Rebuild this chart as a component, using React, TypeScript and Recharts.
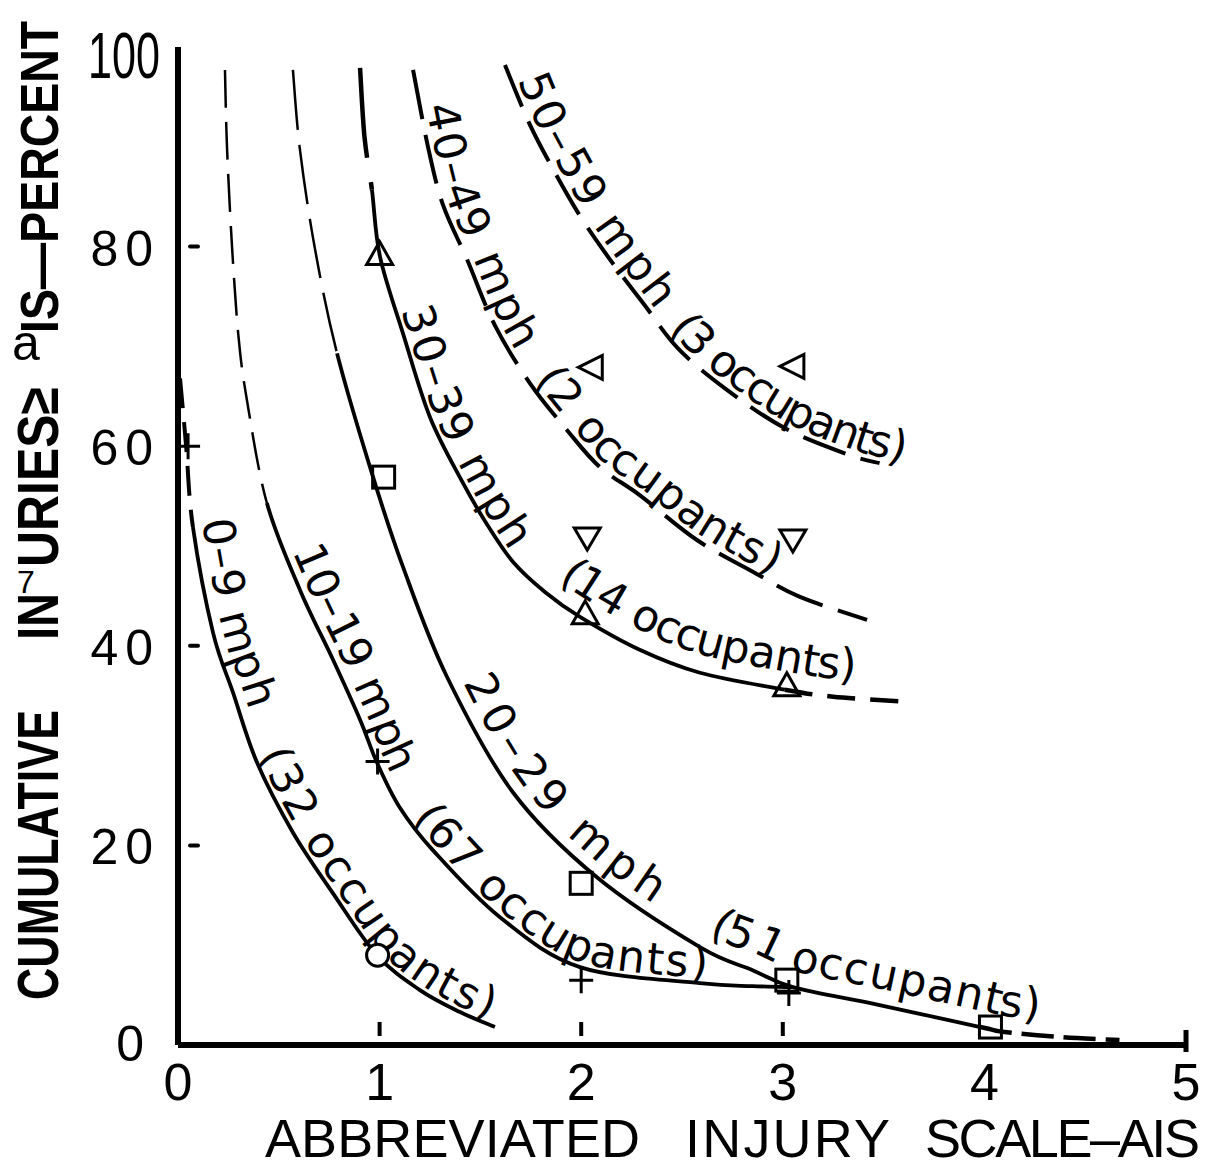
import React from 'react';
import { ComposedChart, Line, Scatter, XAxis, YAxis } from 'recharts';

type Pt = { x: number; y: number };

const xTicks = [0, 1, 2, 3, 4, 5];
const yTicks = [0, 20, 40, 60, 80, 100];

// 0-9 mph (32 occupants)
const mph0Dash: Pt[] = [{ x: 0.01, y: 66.8 }, { x: 0.04, y: 60.1 }, { x: 0.074, y: 51.9 }];
const mph0Solid: Pt[] = [
  { x: 0.074, y: 51.9 }, { x: 0.174, y: 41.3 }, { x: 0.273, y: 35.3 }, { x: 0.392, y: 28.3 },
  { x: 0.57, y: 21.3 }, { x: 0.769, y: 15.2 }, { x: 0.987, y: 9.0 }, { x: 1.2, y: 5.5 },
  { x: 1.399, y: 3.3 }, { x: 1.572, y: 1.8 },
];

// 10-19 mph (67 occupants)
const mph10Dash: Pt[] = [
  { x: 0.233, y: 97.7 }, { x: 0.243, y: 90 }, { x: 0.268, y: 80 }, { x: 0.3, y: 71 },
  { x: 0.342, y: 64.6 }, { x: 0.441, y: 54.3 },
];
const mph10Solid: Pt[] = [
  { x: 0.441, y: 54.3 }, { x: 0.605, y: 45.6 }, { x: 0.769, y: 38.6 }, { x: 0.903, y: 32.6 },
  { x: 0.987, y: 28.3 }, { x: 1.1, y: 23.8 }, { x: 1.265, y: 19.5 }, { x: 1.597, y: 12.8 },
  { x: 1.994, y: 7.8 }, { x: 2.589, y: 6.2 }, { x: 2.85, y: 5.9 }, { x: 3.05, y: 5.8 },
];

// 20-29 mph (51 occupants)
const mph20Dash: Pt[] = [{ x: 0.57, y: 97.7 }, { x: 0.605, y: 89.7 }, { x: 0.68, y: 79.7 }, { x: 0.789, y: 69.3 }];
const mph20Solid: Pt[] = [
  { x: 0.789, y: 69.3 }, { x: 0.96, y: 57.4 }, { x: 1.116, y: 47.9 },
  { x: 1.334, y: 36.9 }, { x: 1.662, y: 25.3 }, { x: 2.078, y: 16.8 },
  { x: 2.589, y: 9.8 }, { x: 2.85, y: 7.5 }, { x: 3.05, y: 5.8 }, { x: 3.48, y: 4.0 }, { x: 3.98, y: 1.8 },
];
const mph20Tail: Pt[] = [{ x: 3.98, y: 1.8 }, { x: 4.1, y: 1.3 }, { x: 4.375, y: 0.8 }, { x: 4.67, y: 0.5 }];

// 30-39 mph (14 occupants)
const mph30Dash: Pt[] = [{ x: 0.903, y: 97.9 }, { x: 0.925, y: 91 }, { x: 0.962, y: 85.7 }];
const mph30Solid: Pt[] = [
  { x: 0.962, y: 85.7 }, { x: 1.002, y: 79 }, { x: 1.116, y: 71.3 }, { x: 1.25, y: 62.9 },
  { x: 1.414, y: 56.3 }, { x: 1.538, y: 52.0 }, { x: 1.662, y: 48.4 }, { x: 1.82, y: 45.4 },
  { x: 1.994, y: 42.9 }, { x: 2.29, y: 39.6 }, { x: 2.589, y: 37.3 }, { x: 3.01, y: 35.6 },
];
const mph30Tail: Pt[] = [{ x: 3.01, y: 35.6 }, { x: 3.25, y: 34.9 }, { x: 3.61, y: 34.4 }];

// 40-49 mph (2 occupants)
const mph40: Pt[] = [
  { x: 1.166, y: 97.7 }, { x: 1.24, y: 90 }, { x: 1.314, y: 84.2 }, { x: 1.434, y: 78.7 },
  { x: 1.572, y: 72.1 }, { x: 1.746, y: 66.3 }, { x: 1.93, y: 61.6 }, { x: 2.093, y: 57.9 },
  { x: 2.29, y: 55.1 }, { x: 2.574, y: 50.6 }, { x: 2.862, y: 47.3 }, { x: 3.085, y: 44.9 },
  { x: 3.418, y: 42.6 },
];

// 50-59 mph (3 occupants)
const mph50: Pt[] = [
  { x: 1.622, y: 98.2 }, { x: 1.672, y: 95.7 }, { x: 1.746, y: 92.2 }, { x: 1.835, y: 88.7 },
  { x: 1.984, y: 83.4 }, { x: 2.143, y: 78.7 }, { x: 2.316, y: 74.1 }, { x: 2.48, y: 69.8 },
  { x: 2.713, y: 65.8 }, { x: 3.011, y: 61.8 }, { x: 3.333, y: 59.1 }, { x: 3.48, y: 58.3 },
];

// observed points
const circlePts: Pt[] = [{ x: 0.99, y: 9 }];
const plusPts: Pt[] = [{ x: 0.05, y: 60 }, { x: 0.99, y: 28.4 }, { x: 2.0, y: 6.5 }, { x: 3.03, y: 5.2 }];
const squarePts: Pt[] = [{ x: 1.02, y: 56.9 }, { x: 2.0, y: 16.2 }, { x: 3.02, y: 6.5 }, { x: 4.03, y: 1.8 }];
const triUpPts: Pt[] = [{ x: 1.0, y: 79.2 }, { x: 2.02, y: 43.2 }, { x: 3.02, y: 36.0 }];
const triDownPts: Pt[] = [{ x: 2.03, y: 50.8 }, { x: 3.05, y: 50.6 }];
const triLeftPts: Pt[] = [{ x: 2.05, y: 67.9 }, { x: 3.05, y: 68.0 }];

const labels0 = ['0–9 mph', '(32 occupants)'];
const labels10 = ['10–19 mph', '(67 occupants)'];
const labels20 = ['20–29 mph', '(51 occupants)'];
const labels30 = ['30–39 mph', '(14 occupants)'];
const labels40 = ['40–49 mph', '(2 occupants)'];
const labels50 = ['50–59 mph', '(3 occupants)'];

const xTitle = ['ABBREVIATED', 'INJURY', 'SCALE–AIS'];
const yTitle = ['CUMULATIVE', 'IN', 'URIES≥', 'IS—PERCENT'];

const INK = '#000';
const LETTER = '"DejaVu Sans", sans-serif';
const NARROW = '"Liberation Sans Narrow", "Arial Narrow", "Liberation Sans", sans-serif';
const SANS = '"Liberation Sans", sans-serif';

// catmull-rom segments as cubic beziers
function bezierSegs(p: [number, number][]) {
  const out: number[][] = [];
  for (let i = 0; i < p.length - 1; i++) {
    const p0 = p[i - 1] || p[i];
    const p1 = p[i];
    const p2 = p[i + 1];
    const p3 = p[i + 2] || p2;
    out.push([
      p1[0] + (p2[0] - p0[0]) / 6,
      p1[1] + (p2[1] - p0[1]) / 6,
      p2[0] - (p3[0] - p1[0]) / 6,
      p2[1] - (p3[1] - p1[1]) / 6,
      p2[0],
      p2[1],
    ]);
  }
  return out;
}

// curve factory for Recharts' Line: smooth through all points, draw only segments [from, to)
const handDrawn = (from: number, to: number) => (context: any) => {
  let pts: [number, number][] = [];
  return {
    areaStart() {},
    areaEnd() {},
    lineStart() {
      pts = [];
    },
    lineEnd() {
      if (pts.length < 2) return;
      const segs = bezierSegs(pts);
      const end = Math.min(to, segs.length);
      context.moveTo(pts[from][0], pts[from][1]);
      for (let i = from; i < end; i++) {
        const s = segs[i];
        context.bezierCurveTo(s[0], s[1], s[2], s[3], s[4], s[5]);
      }
    },
    point(x: number, y: number) {
      pts.push([+x, +y]);
    },
  };
};

function smoothPath(p: { x: number; y: number }[]) {
  const arr = p.map((q) => [q.x, q.y] as [number, number]);
  let d = `M${arr[0][0]},${arr[0][1]}`;
  bezierSegs(arr).forEach((s) => {
    d += ` C${s[0]},${s[1]} ${s[2]},${s[3]} ${s[4]},${s[5]}`;
  });
  return d;
}

const collected: Record<string, { x: number; y: number }[]> = {};

type Seg = [number, number, number]; // start, end (fraction of curve), dy

function labelDot(id: string, count: number, texts: string[], segs: Seg[], ext = 0) {
  return (props: any) => {
    const { index, cx, cy } = props;
    if (index === 0) collected[id] = [];
    const store = collected[id] || (collected[id] = []);
    store[index] = { x: cx, y: cy };
    if (index !== count - 1) return <g key={`${id}-${index}`} />;
    const raw: { x: number; y: number }[] = (props.points && props.points.length === count ? props.points : store).filter(Boolean);
    let L = 0;
    for (let i = 1; i < raw.length; i++) L += Math.hypot(raw[i].x - raw[i - 1].x, raw[i].y - raw[i - 1].y);
    const pts = raw.slice();
    if (ext > 0) {
      const a = raw[raw.length - 2];
      const b = raw[raw.length - 1];
      const l = Math.hypot(b.x - a.x, b.y - a.y) || 1;
      pts.push({ x: b.x + ((b.x - a.x) / l) * ext, y: b.y + ((b.y - a.y) / l) * ext });
    }
    return (
      <g key={`${id}-${index}`}>
        <path id={id} d={smoothPath(pts)} fill="none" stroke="none" />
        {segs.map((s, i) => (
          <text
            key={i}
            fontFamily={LETTER}
            fontSize={44}
            fill={INK}
            dy={s[2]}
            textLength={(s[1] - s[0]) * L}
            lengthAdjust="spacing"
          >
            <textPath href={`#${id}`} startOffset={s[0] * L}>
              {texts[i]}
            </textPath>
          </text>
        ))}
      </g>
    );
  };
}

const CircleMark = (p: any) => <circle cx={p.cx} cy={p.cy} r={11} fill="#fff" stroke={INK} strokeWidth={3} />;
const PlusMark = (p: any) => (
  <path d={`M${p.cx - 12},${p.cy}H${p.cx + 12}M${p.cx},${p.cy - 13}V${p.cy + 13}`} stroke={INK} strokeWidth={3} fill="none" />
);
const SquareMark = (p: any) => (
  <rect x={p.cx - 11} y={p.cy - 11} width={22} height={22} fill="none" stroke={INK} strokeWidth={3} />
);
const TriUpMark = (p: any) => (
  <polygon points={`${p.cx},${p.cy - 13} ${p.cx + 13},${p.cy + 10} ${p.cx - 13},${p.cy + 10}`} fill="none" stroke={INK} strokeWidth={3} />
);
const TriDownMark = (p: any) => (
  <polygon points={`${p.cx - 13},${p.cy - 10} ${p.cx + 13},${p.cy - 10} ${p.cx},${p.cy + 12}`} fill="none" stroke={INK} strokeWidth={3} />
);
const TriLeftMark = (p: any) => (
  <polygon points={`${p.cx - 13},${p.cy} ${p.cx + 11},${p.cy - 12} ${p.cx + 11},${p.cy + 12}`} fill="none" stroke={INK} strokeWidth={3} />
);

const YTick = (props: any) => {
  const { x, y, payload } = props;
  const v = payload.value;
  const top = v === 100;
  return (
    <g>
      <text
        x={v === 0 ? x - 27 : x - 18}
        y={y + (top ? 31 : v === 0 ? 16 : 19)}
        textAnchor="end"
        fontFamily={top ? NARROW : SANS}
        fontSize={top ? 64 : 50}
        letterSpacing={top ? 0 : 7}
        fill={INK}
        {...(top ? { textLength: 72, lengthAdjust: 'spacingAndGlyphs' } : {})}
      >
        {v}
      </text>
      {(v === 20 || v === 40 || v === 80) && (
        <line x1={x + 12} x2={x + 20} y1={y} y2={y} stroke={INK} strokeWidth={4} strokeLinecap="round" />
      )}
    </g>
  );
};

const XTick = (props: any) => {
  const { x, y, payload } = props;
  const v = payload.value;
  return (
    <g>
      <text x={x} y={y + 55} textAnchor="middle" fontFamily={SANS} fontSize={52} fill={INK}>
        {v}
      </text>
      {v >= 1 && v <= 3 && <line x1={x} x2={x} y1={y - 23} y2={y - 9} stroke={INK} strokeWidth={4} />}
      {v === 5 && <line x1={x} x2={x} y1={y - 15} y2={y + 7} stroke={INK} strokeWidth={5} />}
    </g>
  );
};

const XTitle = (props: any) => {
  const vb = props.viewBox || { x: 178, y: 1045, width: 1008 };
  const base = vb.y + 112;
  const left = vb.x;
  const parts: [number, number][] = [
    [87, 375],
    [507, 205],
    [747, 275],
  ];
  return (
    <g>
      {xTitle.map((t, i) => (
        <text
          key={t}
          x={left + parts[i][0]}
          y={base}
          fontFamily={NARROW}
          fontSize={54}
          fill={INK}
          textLength={parts[i][1]}
          lengthAdjust="spacing"
        >
          {t}
        </text>
      ))}
    </g>
  );
};

const YTitle = (props: any) => {
  const vb = props.viewBox || { x: 78, y: 47, width: 100, height: 998 };
  const ax = vb.x + vb.width;
  const bottom = vb.y + vb.height;
  const bx = ax - 120;
  // [offset up from axis bottom, length, font size]
  const parts: [number, number, number][] = [
    [45, 290, 58],
    [405, 47, 58],
    [478, 180, 58],
    [712, 312, 54],
  ];
  return (
    <g>
      {yTitle.map((t, i) => {
        const sy = bottom - parts[i][0];
        return (
          <text
            key={t}
            x={bx}
            y={sy}
            transform={`rotate(-90 ${bx} ${sy})`}
            fontFamily={NARROW}
            fontWeight="bold"
            fontSize={parts[i][2]}
            fill={INK}
            textLength={parts[i][1]}
            lengthAdjust="spacingAndGlyphs"
          >
            {t}
          </text>
        );
      })}
      <text x={bx - 41} y={bottom - 452} fontFamily={SANS} fontSize={32} fill={INK}>
        7
      </text>
      <text x={bx - 46} y={bottom - 685} fontFamily={SANS} fontSize={50} fill={INK}>
        a
      </text>
    </g>
  );
};

const full0 = [...mph0Dash, ...mph0Solid.slice(1)];
const full10 = [...mph10Dash, ...mph10Solid.slice(1)];
const full20 = [...mph20Dash, ...mph20Solid.slice(1), ...mph20Tail.slice(1)];
const full30 = [...mph30Dash, ...mph30Solid.slice(1), ...mph30Tail.slice(1)];

export default function App() {
  const labelSeries = [
    { id: 'lp0', data: full0, texts: labels0, segs: [[0.19, 0.45, -10], [0.51, 0.99, -5]] as Seg[], ext: 30 },
    { id: 'lp1', data: full10, texts: labels10, segs: [[0.4, 0.6, -8], [0.64, 0.93, -5]] as Seg[], ext: 0 },
    { id: 'lp2', data: full20, texts: labels20, segs: [[0.446, 0.656, -12], [0.7, 0.944, -16]] as Seg[], ext: 0 },
    { id: 'lp3', data: full30, texts: labels30, segs: [[0.26, 0.54, -5], [0.6, 0.946, -18]] as Seg[], ext: 0 },
    { id: 'lp4', data: mph40, texts: labels40, segs: [[0.05, 0.4, -6], [0.445, 0.86, -6]] as Seg[], ext: 0 },
    { id: 'lp5', data: mph50, texts: labels50, segs: [[0.033, 0.51, -6], [0.55, 1.04, -6]] as Seg[], ext: 50 },
  ];

  // one curve = full point list, drawn piecewise (dashed / solid / dashed)
  const piece = (key: string, data: Pt[], from: number, to: number, width: number, dash?: string) => (
    <Line
      key={key}
      data={data}
      dataKey="y"
      type={handDrawn(from, to) as any}
      stroke={INK}
      strokeWidth={width}
      strokeDasharray={dash}
      dot={false}
      activeDot={false}
      isAnimationActive={false}
    />
  );

  const d0 = mph0Dash.length - 1;
  const d10 = mph10Dash.length - 1;
  const d20 = mph20Dash.length - 1;
  const s20 = d20 + mph20Solid.length - 1;
  const d30 = mph30Dash.length - 1;
  const s30 = d30 + mph30Solid.length - 1;

  return (
    <div style={{ position: 'absolute', left: 0, top: 0, width: 1214, height: 1168, background: '#fff' }}>
      <ComposedChart width={1214} height={1168} margin={{ top: 47, right: 28, bottom: 63, left: 78 }}>
        <XAxis
          type="number"
          dataKey="x"
          domain={[0, 5]}
          ticks={xTicks}
          interval={0}
          allowDataOverflow
          height={60}
          axisLine={{ stroke: INK, strokeWidth: 6 }}
          tickLine={false}
          tickSize={0}
          tickMargin={0}
          tick={<XTick />}
          label={<XTitle />}
        />
        <YAxis
          type="number"
          dataKey="y"
          domain={[0, 100]}
          ticks={yTicks}
          interval={0}
          allowDataOverflow
          width={100}
          axisLine={{ stroke: INK, strokeWidth: 6 }}
          tickLine={false}
          tickSize={0}
          tickMargin={0}
          tick={<YTick />}
          label={<YTitle />}
        />

        {piece('c0d', full0, 0, d0, 4, '30 14')}
        {piece('c0s', full0, d0, 99, 3.8)}
        {piece('c1d', full10, 0, d10, 2.5, '38 14')}
        {piece('c1s', full10, d10, 99, 3.8)}
        {piece('c2d', full20, 0, d20, 2.5, '60 15')}
        {piece('c2s', full20, d20, s20, 3.8)}
        {piece('c2t', full20, s20, 99, 4.5, '32 10')}
        {piece('c3d', full30, 0, d30, 4.5, '90 25')}
        {piece('c3s', full30, d30, s30, 3.8)}
        {piece('c3t', full30, s30, 99, 4.5, '28 15')}
        {piece('c4', mph40, 0, 99, 4, '50 16')}
        {piece('c5', mph50, 0, 99, 4, '45 16')}

        {labelSeries.map((s) => (
          <Line
            key={s.id}
            data={s.data}
            dataKey="y"
            type="linear"
            stroke="none"
            dot={labelDot(s.id, s.data.length, s.texts, s.segs, s.ext)}
            activeDot={false}
            isAnimationActive={false}
            legendType="none"
          />
        ))}

        <Scatter data={plusPts} dataKey="y" shape={PlusMark} isAnimationActive={false} />
        <Scatter data={squarePts} dataKey="y" shape={SquareMark} isAnimationActive={false} />
        <Scatter data={triUpPts} dataKey="y" shape={TriUpMark} isAnimationActive={false} />
        <Scatter data={triDownPts} dataKey="y" shape={TriDownMark} isAnimationActive={false} />
        <Scatter data={triLeftPts} dataKey="y" shape={TriLeftMark} isAnimationActive={false} />
        <Scatter data={circlePts} dataKey="y" shape={CircleMark} isAnimationActive={false} />
      </ComposedChart>
    </div>
  );
}
